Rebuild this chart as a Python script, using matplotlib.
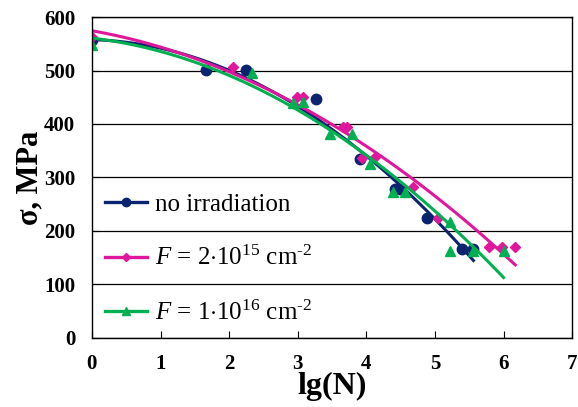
import numpy as np
import matplotlib.pyplot as plt

plt.rcParams['font.family'] = ['Liberation Serif', 'DejaVu Serif']
plt.rcParams['mathtext.fontset'] = 'custom'
plt.rcParams['mathtext.rm'] = 'Liberation Serif'
plt.rcParams['mathtext.it'] = 'Liberation Serif:italic'

# data
lgN_0 = [0.0, 1.66, 2.25, 3.27, 3.9, 4.42, 4.49, 4.88, 5.39, 5.56]
sig_0 = [557, 501, 501, 446, 334, 278, 278, 224, 167, 167]

lgN_1 = [0.0, 2.06, 2.99, 3.08, 3.66, 3.72, 3.93, 4.13, 4.68, 5.05, 5.78, 5.97, 6.17]
sig_1 = [563, 507, 451, 451, 395, 395, 336, 339, 282, 224, 169, 169, 169]

lgN_2 = [0.0, 2.33, 2.93, 3.08, 3.47, 3.79, 4.05, 4.39, 4.56, 5.22, 5.22, 5.56, 6.0]
sig_2 = [548, 495, 439, 442, 382, 382, 326, 272, 272, 217, 163, 163, 163]

labels = ['no irradiation',
          r'$F$ = 2$\cdot$10$^{15}$ cm$^{\text{-}2}$',
          r'$F$ = 1$\cdot$10$^{16}$ cm$^{\text{-}2}$']
colors = ['#0B2470', '#E0169C', '#00B050']
markers = ['o', 'D', '^']
msizes = [7.5, 5.5, 7]

fig = plt.figure(figsize=(5.78, 4.07), dpi=100)
ax = fig.add_axes([0.159, 0.17, 0.831, 0.788])

series = [(lgN_0, sig_0), (lgN_1, sig_1), (lgN_2, sig_2)]
for i in range(3):
    x, y = series[i]
    ax.plot(x, y, linestyle='none', marker=markers[i], color=colors[i], ms=msizes[i])
    # 2nd order trend line
    c = np.polyfit(x, y, 2)
    xs = np.linspace(0, max(x), 100)
    ax.plot(xs, np.polyval(c, xs), color=colors[i], lw=2.2)

# legend handles
handles = []
for i in range(3):
    h, = ax.plot([], [], color=colors[i], marker=markers[i], ms=msizes[i] - 1.5, lw=2.4)
    handles.append(h)
ax.legend(handles, labels, loc='center left', bbox_to_anchor=(-0.02, 0.245), frameon=False,
          fontsize=18, labelspacing=1.2, handlelength=1.7, handletextpad=0.3)

ax.set_xlim(0, 7)
ax.set_ylim(0, 600)
ax.set_xticks(range(0, 8))
ax.set_yticks(range(0, 601, 100))
ax.yaxis.grid(True, color='black', lw=0.9)
ax.set_axisbelow(True)
ax.tick_params(direction='in', length=5, labelsize=15, pad=12)
for lab in ax.get_xticklabels() + ax.get_yticklabels():
    lab.set_fontweight('bold')
for s in ax.spines.values():
    s.set_linewidth(1)
ax.set_xlabel('lg(N)', fontsize=23, fontweight='bold', labelpad=-2)
ax.set_ylabel('σ, MPa', fontsize=22, fontweight='bold', labelpad=0)

plt.savefig('out.png', dpi=100)
